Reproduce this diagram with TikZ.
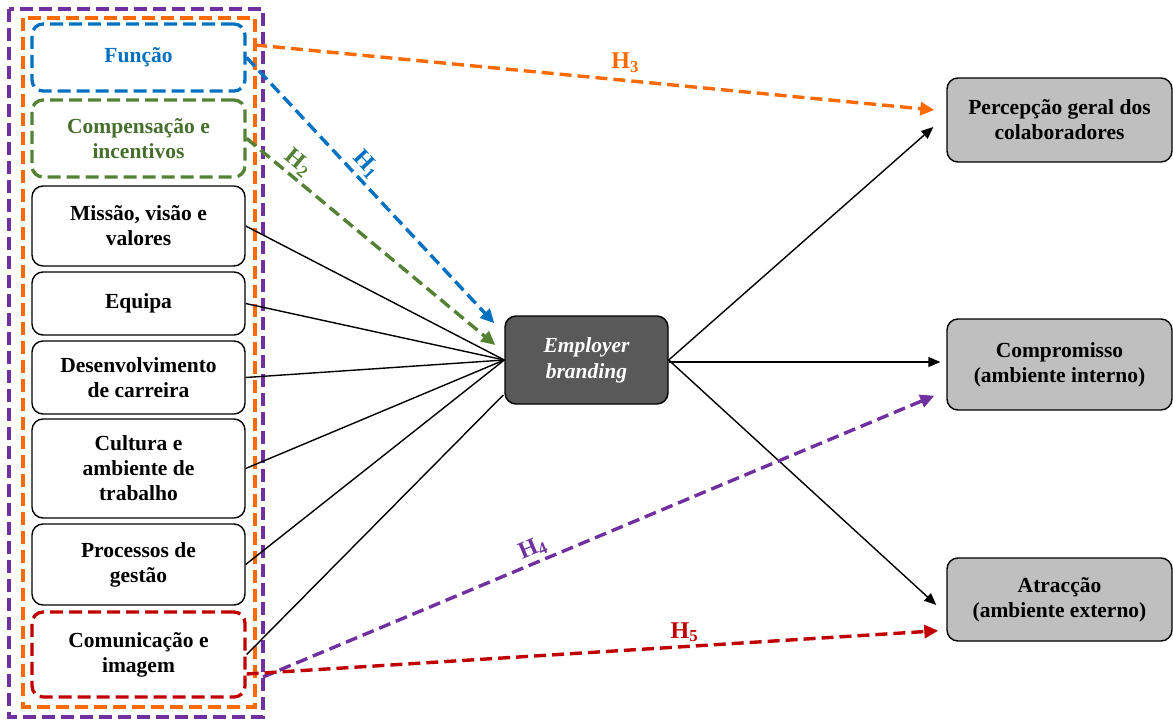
\documentclass[tikz,border=0pt]{standalone}
\usepackage{fontspec}
\setmainfont{Liberation Serif}
\usetikzlibrary{arrows.meta,positioning}

\definecolor{hblue}{HTML}{0070C0}
\definecolor{hgreen}{HTML}{548235}
\definecolor{horange}{HTML}{FF6A00}
\definecolor{hpurple}{HTML}{7030A0}
\definecolor{hred}{HTML}{C00000}
\definecolor{ebgray}{HTML}{595959}
\definecolor{boxgray}{HTML}{BFBFBF}

\begin{document}
\begin{tikzpicture}[
  x=1pt, y=-1pt,
  font=\fontsize{21.5}{25}\selectfont\bfseries,
  box/.style={draw, rounded corners=11pt, line width=1.4pt, align=center, minimum width=213pt, inner sep=2pt},
  dbox/.style={box, dash pattern=on 13pt off 6pt, line width=3.3pt},
  grpframe/.style={dash pattern=on 13pt off 6pt, line width=3.3pt},
  rbox/.style={box, fill=boxgray, minimum width=225pt},
  link/.style={line width=1.4pt},
  outarr/.style={-{Triangle[length=12pt,width=10pt]}, line width=1.4pt},
  hyp/.style={-{Triangle[length=14pt,width=13pt]}, dash pattern=on 12pt off 6pt, line width=3.4pt},
  hlab/.style={font=\fontsize{24}{26}\selectfont\bfseries, inner sep=3pt}
]
  \useasboundingbox (0,0) rectangle (1173,720);

  % group frames
  \draw[grpframe, hpurple] (9,9) coordinate (grpB-nw) rectangle (263,717) coordinate (grpB-se);
  \draw[grpframe, horange] (23,18) coordinate (grpA-nw) rectangle (255,707) coordinate (grpA-se);
  \coordinate (grpA-ne) at (grpA-se |- grpA-nw);

  % dimensions
  \node[dbox, draw=hblue, text=hblue, minimum height=67pt] (funcao) at (138.5,57.5) {Função};
  \node[dbox, draw=hgreen, text=hgreen!85!black, minimum height=77pt] (compens) at (138.5,138.5) {Compensação e\\incentivos};
  \node[box, minimum height=80pt] (missao) at (138.5,226) {Missão, visão e\\valores};
  \node[box, minimum height=63pt] (equipa) at (138.5,303.5) {Equipa};
  \node[box, minimum height=73pt] (desenv) at (138.5,377.5) {Desenvolvimento\\de carreira};
  \node[box, minimum height=99pt] (cultura) at (138.5,468.5) {Cultura e\\ambiente de\\trabalho};
  \node[box, minimum height=81pt] (process) at (138.5,564.5) {Processos de\\gestão};
  \node[dbox, draw=hred, minimum height=85pt] (comunic) at (138.5,654.5) {Comunicação e\\imagem};

  % centre and outcomes
  \node[box, fill=ebgray, text=white, minimum width=163pt, minimum height=88pt, font=\fontsize{21.5}{26}\selectfont\bfseries\itshape] (eb) at (586.5,360) {Employer\\branding};
  \node[rbox, minimum height=84pt] (percep) at (1059.5,120) {Percepção geral dos\\colaboradores};
  \node[rbox, minimum height=91pt] (compr) at (1059.5,364.5) {Compromisso\\(ambiente interno)};
  \node[rbox, minimum height=83pt] (atrac) at (1059.5,599.5) {Atracção\\(ambiente externo)};

  \draw[link] (missao.east) -- (eb.west);
  \draw[link] (equipa.east) -- (eb.west);
  \draw[link] (desenv.east) -- (eb.west);
  \draw[link] (cultura.east) -- (eb.west);
  \draw[link] (process.east) -- (eb.west);
  \draw[link] (comunic.east) -- ([shift={(-1,35)}]eb.west);

  \draw[outarr] (eb.east) -- ([shift={(-13,7)}]percep.west);
  \draw[outarr] ([shift={(0,2)}]eb.east) -- ([shift={(-6,-2.5)}]compr.west);
  \draw[outarr] (eb.east) -- ([shift={(-10,5.5)}]atrac.west);

  % hypotheses
  \draw[hyp, hblue] (funcao.east) -- ([shift={(-10,8)}]eb.north west)
    node[hlab, pos=.44, sloped, above] {H\textsubscript{1}};
  \draw[hyp, hgreen] (compens.east) -- ([shift={(-9,-15)}]eb.west)
    node[hlab, pos=.17, sloped, above] {H\textsubscript{2}};
  \draw[hyp, horange] ([shift={(0,27)}]grpA-ne) -- ([shift={(-12,-10)}]percep.west)
    node[hlab, pos=.545, above=3pt] {H\textsubscript{3}};
  \draw[hyp, hpurple] ([shift={(0,-40)}]grpB-se) -- ([shift={(-12,-15)}]compr.south west)
    node[hlab, pos=.41, sloped, above] {H\textsubscript{4}};
  \draw[hyp, hred] ([shift={(0,19.5)}]comunic.east) -- ([shift={(-8,-11)}]atrac.south west)
    node[hlab, pos=.633, above] {H\textsubscript{5}};
\end{tikzpicture}
\end{document}
